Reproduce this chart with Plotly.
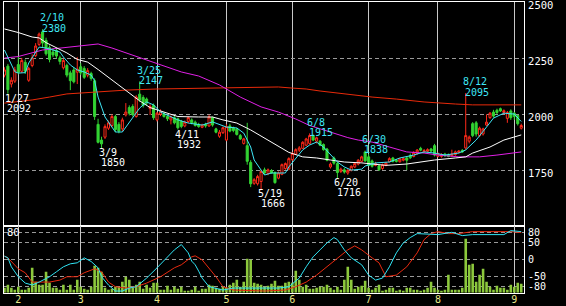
import pandas as pd
import plotly.graph_objects as go

# ---------------- data ----------------
holidays = ["2022-02-11", "2022-02-23", "2022-03-21", "2022-04-29", "2022-05-03",
            "2022-05-04", "2022-05-05", "2022-07-18", "2022-08-11"]
sessions = [d for d in pd.bdate_range("2022-01-26", "2022-09-05")
            if d.strftime("%Y-%m-%d") not in holidays]
session_labels = [d.strftime("%m-%d") for d in sessions]
pos = {lab: k for k, lab in enumerate(session_labels)}
xs = list(range(len(sessions)))

opens = [2175, 2215, 2135, 2148, 2222, 2192, 2232, 2152, 2218, 2262, 2312, 2368, 2330, 2298, 2278,
         2285, 2252, 2208, 2218, 2185, 2198, 2188, 2212, 2205, 2175, 2182, 2150, 1955, 1885, 1898,
         1938, 1950, 1990, 1955, 1935, 1997, 2030, 2035, 1990, 2090, 2075, 2068, 2025, 2040, 1975,
         2000, 2002, 1990, 1975, 1985, 1980, 1968, 1948, 1968, 1975, 1965, 1955, 1942, 1955, 1948,
         1985, 1935, 1902, 1918, 1885, 1948, 1940, 1935, 1905, 1870, 1860, 1785, 1692, 1690, 1700,
         1752, 1735, 1748, 1740, 1715, 1732, 1758, 1755, 1798, 1822, 1840, 1848, 1862, 1870, 1905,
         1880, 1880, 1865, 1845, 1765, 1805, 1780, 1745, 1752, 1738, 1750, 1765, 1778, 1790, 1832,
         1810, 1792, 1772, 1770, 1758, 1772, 1788, 1805, 1795, 1788, 1795, 1805, 1815, 1812, 1825,
         1848, 1832, 1835, 1845, 1860, 1812, 1812, 1822, 1818, 1815, 1820, 1830, 1838, 1850, 1880,
         1958, 1962, 1905, 1912, 1952, 1985, 2010, 2018, 2025, 2008, 1982, 2015, 2005, 1995, 1938]
highs = [2210, 2225, 2165, 2212, 2258, 2252, 2245, 2212, 2268, 2318, 2365, 2380, 2342, 2308, 2295,
         2298, 2262, 2248, 2226, 2195, 2210, 2255, 2228, 2215, 2206, 2190, 2160, 1980, 1900, 1955,
         1972, 2000, 1998, 1965, 1985, 2050, 2040, 2045, 2085, 2147, 2085, 2075, 2045, 2048, 2010,
         2022, 2010, 1996, 1995, 1995, 1985, 1975, 1972, 1990, 1982, 1972, 1962, 1958, 1962, 1998,
         1990, 1940, 1930, 1945, 1955, 1958, 1945, 1940, 1912, 1895, 1962, 1795, 1715, 1730, 1752,
         1762, 1758, 1755, 1745, 1745, 1780, 1785, 1808, 1832, 1848, 1858, 1880, 1895, 1915, 1910,
         1900, 1885, 1870, 1850, 1785, 1812, 1788, 1762, 1760, 1755, 1772, 1785, 1800, 1815, 1838,
         1822, 1798, 1788, 1775, 1780, 1788, 1808, 1810, 1800, 1805, 1808, 1812, 1825, 1835, 1845,
         1855, 1845, 1848, 1850, 1868, 1830, 1826, 1828, 1825, 1842, 1838, 1840, 1845, 2095, 1905,
         1965, 1970, 1945, 1940, 2000, 2010, 2020, 2025, 2030, 2022, 2015, 2022, 2010, 1998, 1958]
lows = [2165, 2092, 2120, 2140, 2178, 2185, 2180, 2145, 2210, 2255, 2305, 2300, 2262, 2232, 2255,
        2250, 2222, 2200, 2165, 2108, 2138, 2135, 2175, 2158, 2165, 2150, 1975, 1870, 1850, 1890,
        1930, 1942, 1920, 1915, 1925, 1990, 1995, 1990, 1985, 2055, 2030, 2040, 1997, 1975, 1968,
        1992, 1985, 1970, 1955, 1955, 1932, 1938, 1942, 1960, 1955, 1945, 1940, 1938, 1940, 1944,
        1945, 1915, 1895, 1912, 1880, 1920, 1920, 1905, 1885, 1865, 1775, 1675, 1685, 1682, 1666,
        1730, 1728, 1735, 1690, 1710, 1728, 1752, 1750, 1792, 1818, 1832, 1845, 1858, 1865, 1880,
        1870, 1858, 1838, 1790, 1758, 1775, 1716, 1738, 1735, 1730, 1745, 1760, 1772, 1785, 1788,
        1768, 1762, 1768, 1748, 1752, 1768, 1785, 1785, 1785, 1785, 1790, 1751, 1800, 1808, 1820,
        1835, 1828, 1830, 1830, 1812, 1808, 1806, 1810, 1808, 1810, 1815, 1825, 1828, 1842, 1870,
        1898, 1900, 1898, 1905, 1948, 1980, 1985, 2000, 2010, 2000, 1962, 1975, 1975, 1950, 1932]
closes = [2198, 2110, 2152, 2198, 2188, 2240, 2192, 2205, 2252, 2305, 2358, 2318, 2270, 2245, 2265,
          2260, 2236, 2240, 2175, 2150, 2145, 2202, 2185, 2165, 2195, 2160, 1990, 1875, 1868, 1945,
          1962, 1990, 1932, 1925, 1975, 2010, 2005, 1998, 2077, 2064, 2040, 2050, 2035, 1985, 2005,
          2012, 1990, 1980, 1988, 1962, 1940, 1946, 1965, 1985, 1962, 1950, 1945, 1952, 1948, 1988,
          1952, 1920, 1920, 1940, 1945, 1925, 1928, 1910, 1890, 1890, 1790, 1690, 1708, 1722, 1745,
          1738, 1752, 1738, 1695, 1738, 1775, 1780, 1802, 1825, 1842, 1850, 1875, 1890, 1905, 1885,
          1895, 1862, 1842, 1795, 1778, 1782, 1740, 1755, 1742, 1750, 1768, 1780, 1795, 1810, 1792,
          1772, 1768, 1780, 1752, 1775, 1782, 1802, 1790, 1790, 1800, 1802, 1795, 1806, 1830, 1840,
          1840, 1838, 1842, 1836, 1818, 1825, 1820, 1815, 1812, 1822, 1832, 1836, 1832, 1905, 1898,
          1905, 1912, 1938, 1935, 1965, 2005, 1992, 2008, 2015, 2016, 2008, 1985, 1990, 1958, 1950]
volume = [5, 8, 5, 3, 6, 3, 3, 5, 25, 11, 8, 8, 21, 10, 5, 5, 3, 8, 3, 8, 3, 13, 6, 4, 3, 6, 27, 25,
          21, 5, 3, 4, 6, 6, 11, 16, 13, 5, 8, 11, 4, 8, 5, 10, 10, 3, 3, 7, 3, 6, 4, 6, 2, 2, 3, 6,
          2, 4, 4, 8, 7, 5, 4, 6, 5, 8, 10, 13, 6, 11, 34, 33, 10, 9, 8, 6, 7, 9, 12, 7, 7, 10, 11,
          10, 22, 13, 6, 8, 4, 4, 5, 6, 6, 8, 5, 3, 6, 3, 13, 26, 13, 4, 6, 7, 12, 5, 3, 5, 8, 2, 3,
          5, 5, 2, 3, 2, 5, 5, 3, 3, 2, 3, 5, 11, 5, 3, 2, 3, 18, 3, 3, 3, 5, 54, 28, 29, 11, 18, 24,
          11, 6, 3, 7, 5, 5, 3, 8, 6, 10, 9]

# moving averages (session date -> value)
ma_short_dates = ["01-26", "01-28", "01-31", "02-01", "02-03", "02-04", "02-08", "02-09", "02-14", "02-16",
                  "02-18", "02-21", "02-24", "02-28", "03-02", "03-04", "03-07", "03-08", "03-10", "03-14",
                  "03-15", "03-17", "03-18", "03-23", "03-25", "03-29", "03-31", "04-04", "04-07", "04-11",
                  "04-14", "04-20", "04-25", "05-02", "05-10", "05-12", "05-16", "05-17", "05-19", "05-20",
                  "05-24", "05-26", "05-30", "05-31", "06-02", "06-06", "06-08", "06-10", "06-14", "06-16",
                  "06-20", "06-22", "06-24", "06-29", "06-30", "07-05", "07-11", "07-14", "07-21", "07-26",
                  "07-29", "08-03", "08-09", "08-12", "08-17", "08-22", "08-24", "08-29", "09-01", "09-05"]
ma_short_vals = [2287, 2220, 2190, 2184, 2186, 2229, 2274, 2300, 2296, 2287,
                 2278, 2256, 2220, 2198, 2189, 2175, 2150, 2077, 1988, 1943,
                 1921, 1921, 1943, 1983, 2028, 2055, 2042, 2010, 1988, 1975,
                 1961, 1952, 1966, 1943, 1939, 1916, 1854, 1796, 1751, 1729,
                 1738, 1738, 1738, 1765, 1805, 1841, 1863, 1876, 1854, 1818,
                 1787, 1765, 1751, 1755, 1769, 1783, 1787, 1805, 1818, 1832,
                 1827, 1818, 1827, 1841, 1885, 1943, 1983, 2005, 2001, 1968]
ma_mid_dates = ["01-26", "02-01", "02-07", "02-09", "02-14", "02-18", "02-22", "02-28", "03-03", "03-08",
                "03-15", "03-18", "03-25", "03-30", "04-06", "04-11", "04-19", "04-25", "04-28", "05-10",
                "05-16", "05-20", "05-26", "05-31", "06-06", "06-10", "06-16", "06-22", "06-29", "07-08",
                "07-19", "07-29", "08-08", "08-12", "08-16", "08-23", "08-29", "09-05"]
ma_mid_vals = [2381, 2365, 2345, 2341, 2320, 2290, 2274, 2245, 2233, 2200,
               2140, 2105, 2060, 2030, 2005, 1990, 1988, 1988, 1975, 1961,
               1930, 1895, 1860, 1830, 1810, 1805, 1796, 1787, 1783, 1772,
               1778, 1796, 1805, 1810, 1827, 1854, 1885, 1908]
ma_long_dates = ["01-26", "02-01", "02-10", "02-22", "03-01", "03-08", "03-14", "03-18", "03-29", "04-06",
                 "04-12", "04-19", "04-27", "05-11", "05-19", "05-26", "06-02", "06-08", "06-16", "06-23",
                 "06-28", "07-04", "07-11", "07-19", "07-26", "08-01", "08-09", "08-18", "08-25", "09-01",
                 "09-05"]
ma_long_vals = [2251, 2258, 2287, 2298, 2305, 2314, 2296, 2274, 2242, 2211,
                2189, 2171, 2131, 2077, 2033, 2010, 1979, 1950, 1921, 1896,
                1885, 1876, 1854, 1832, 1827, 1818, 1810, 1810, 1818, 1827,
                1832]
ma_200_dates = ["01-26", "02-07", "02-15", "02-22", "03-01", "03-08", "03-18", "04-01", "04-19", "05-12",
                "05-26", "06-01", "06-07", "06-13", "06-20", "06-24", "07-04", "07-13", "07-26", "08-08",
                "08-16", "09-05"]
ma_200_vals = [2050, 2064, 2077, 2091, 2095, 2100, 2108, 2113, 2117, 2122,
               2122, 2117, 2113, 2104, 2095, 2091, 2077, 2068, 2055, 2046,
               2042, 2042]

# oscillator lines (bottom panel)
osc_a_dates = ["01-26", "01-27", "01-28", "02-01", "02-03", "02-07", "02-09", "02-15", "02-17", "02-21",
               "02-24", "02-28", "03-02", "03-04", "03-08", "03-09", "03-11", "03-15", "03-17", "03-22",
               "03-24", "03-29", "04-01", "04-06", "04-08", "04-12", "04-14", "04-15", "04-18", "04-19",
               "04-20", "04-22", "04-28", "05-09", "05-13", "05-20", "05-26", "05-31", "06-03", "06-07",
               "06-09", "06-13", "06-15", "06-17", "06-20", "06-22", "06-24", "06-29", "07-01", "07-05",
               "07-07", "07-11", "07-13", "07-15", "07-20", "07-22", "08-01", "08-05", "08-10", "08-16",
               "08-29", "08-31", "09-05"]
osc_a_vals = [10, 5, -22, -52, -71, -77, -68, -52, -37, -22,
              -13, -10, 5, -6, -25, -52, -77, -95, -95, -86,
              -82, -56, -25, 8, 29, 45, 20, -5, -16, -35,
              -56, -82, -92, -86, -86, -86, -86, -82, -56, -22,
              8, 29, 50, 66, 60, 29, 5, -16, -47, -62,
              -56, -22, 20, 50, 66, 78, 75, 82, 72, 75,
              75, 87, 84]
osc_b_dates = ["01-26", "01-27", "02-01", "02-03", "02-07", "02-09", "02-15", "02-18", "02-22", "02-28",
               "03-02", "03-07", "03-09", "03-11", "03-15", "03-18", "03-24", "03-29", "04-04", "04-08",
               "04-12", "04-15", "04-18", "04-20", "04-22", "04-26", "04-28", "05-09", "05-20", "05-30",
               "06-02", "06-07", "06-10", "06-15", "06-20", "06-23", "06-27", "06-29", "07-04", "07-06",
               "07-08", "07-13", "07-19", "07-22", "07-26", "07-28", "08-01", "08-04", "08-09", "08-16",
               "08-23", "08-31", "09-05"]
osc_b_vals = [10, 5, -28, -40, -68, -68, -68, -62, -52, -52,
              -40, -28, -37, -68, -82, -86, -82, -71, -52, -25,
              -16, 8, 11, -1, -25, -52, -82, -92, -95, -92,
              -82, -68, -47, -22, 5, 29, 41, 29, 5, -10,
              -52, -47, -22, 20, 60, 78, 84, 78, 78, 84,
              84, 84, 81]

# annotated extremes: (session, kind)
marks = [("01-27", "low"), ("02-10", "high"), ("03-09", "low"), ("03-25", "high"), ("04-11", "low"),
         ("05-19", "low"), ("06-08", "high"), ("06-20", "low"), ("06-30", "high"), ("08-12", "high")]

price_ticks = [1750, 2000, 2250, 2500]
osc_ticks = [80, 50, 0, -50, -80]

# ---------------- figure ----------------
W, H = 566, 306
xdom = [4 / W, 524 / W]
main_dom = [(H - 226.3) / H, (H - 2.3) / H]
sub_dom = [(H - 292.7) / H, (H - 226.3) / H]
xrange_ = [-0.123, 149.80]

FONT = "DejaVu Sans Mono"
CYAN = "#3fe6f6"
LBL = 10
fig = go.Figure()

fig.add_trace(go.Candlestick(
    x=xs, open=opens, high=highs, low=lows, close=closes, xaxis="x", yaxis="y",
    increasing=dict(line=dict(color="#ff2a1a", width=1), fillcolor="black"),
    decreasing=dict(line=dict(color="#33d433", width=1), fillcolor="#33d433"),
    whiskerwidth=0, hoverinfo="skip"))

for dts, vals, col in [(ma_200_dates, ma_200_vals, "#e82a0a"),
                       (ma_long_dates, ma_long_vals, "#e020e6"),
                       (ma_mid_dates, ma_mid_vals, "#ffffff"),
                       (ma_short_dates, ma_short_vals, CYAN)]:
    fig.add_trace(go.Scatter(x=[pos[d] for d in dts], y=vals, mode="lines",
                             line=dict(color=col, width=1), xaxis="x", yaxis="y",
                             hoverinfo="skip"))

fig.add_trace(go.Bar(x=xs, y=volume, width=0.75, marker=dict(color="#8cc83c", line=dict(width=0)),
                     xaxis="x2", yaxis="y2", hoverinfo="skip"))
for dts, vals, col in [(osc_b_dates, osc_b_vals, "#e82a10"),
                       (osc_a_dates, osc_a_vals, "#30e4f4")]:
    fig.add_trace(go.Scatter(x=[pos[d] for d in dts], y=vals, mode="lines",
                             line=dict(color=col, width=1), xaxis="x2", yaxis="y3",
                             hoverinfo="skip"))

month_pos = []
month_txt = []
for k, d in enumerate(sessions):
    if k > 0 and d.month != sessions[k - 1].month:
        month_pos.append(k)
        month_txt.append(str(d.month))

grid_v = "#c8c8c8"
grid_h = "#9a9a9a"
ann = []
for dt, kind in marks:
    k = pos[dt]
    m, d = dt.split("-")
    dlabel = f"{int(m)}/{int(d)}"
    if kind == "high":
        v = highs[k]
        col = CYAN
        ann.append(dict(x=k, y=v, xref="x", yref="y", text=str(v), showarrow=False,
                        xanchor="left", yanchor="middle", xshift=-2, yshift=1, borderpad=0,
                        font=dict(color=col, size=LBL, family=FONT)))
        ann.append(dict(x=k, y=v, xref="x", yref="y", text=dlabel, showarrow=False,
                        xanchor="left", yanchor="middle", xshift=-4, yshift=11.2, borderpad=0,
                        font=dict(color=col, size=LBL, family=FONT)))
    else:
        v = lows[k]
        col = "#ffffff"
        ann.append(dict(x=k, y=v, xref="x", yref="y", text=dlabel, showarrow=False,
                        xanchor="left", yanchor="middle", xshift=-4, yshift=-4.5, borderpad=0,
                        font=dict(color=col, size=LBL, family=FONT)))
        ann.append(dict(x=k, y=v, xref="x", yref="y", text=str(v), showarrow=False,
                        xanchor="left", yanchor="middle", xshift=-1.5, yshift=-14.5, borderpad=0,
                        font=dict(color=col, size=LBL, family=FONT)))
ann.append(dict(x=0, y=1, xref="x2 domain", yref="y3 domain", text=str(osc_ticks[0]),
                showarrow=False, xanchor="left", yanchor="top", xshift=1, yshift=2,
                font=dict(color="white", size=10.5, family=FONT)))

fig.update_layout(
    width=W, height=H, margin=dict(l=0, r=0, t=0, b=0, autoexpand=False),
    paper_bgcolor="black", plot_bgcolor="black", showlegend=False, boxgap=0.15,
    xaxis=dict(domain=xdom, range=xrange_, anchor="y", tickvals=month_pos, showticklabels=False,
               showgrid=True, gridcolor=grid_v, gridwidth=1, zeroline=False, ticks="",
               showline=True, mirror=True, linecolor="white", linewidth=1,
               rangeslider=dict(visible=False)),
    yaxis=dict(domain=main_dom, range=[1500, 2500], anchor="x", side="right",
               tickvals=price_ticks, ticktext=[str(t) for t in price_ticks],
               tickfont=dict(color="white", size=10.5, family=FONT), ticks="",
               ticklabelshift=3, ticklabelstandoff=1, ticklabeloverflow="allow",
               showgrid=True, gridcolor=grid_h, griddash="4px,3px", gridwidth=1,
               zeroline=False, showline=True, mirror=True, linecolor="white", linewidth=1),
    xaxis2=dict(domain=xdom, range=xrange_, anchor="y2", tickvals=month_pos, ticktext=month_txt,
                tickfont=dict(color="#e8e88a", size=10, family=FONT), ticks="",
                ticklabelstandoff=-3, ticklabeloverflow="allow",
                showgrid=True, gridcolor=grid_v, gridwidth=1, zeroline=False,
                showline=True, mirror=True, linecolor="white", linewidth=1),
    yaxis2=dict(domain=sub_dom, range=[0, 66.4], anchor="x2", showgrid=False, zeroline=False,
                showticklabels=False, ticks="", showline=False),
    yaxis3=dict(overlaying="y2", anchor="x2", range=[-100, 100], side="right",
                tickvals=osc_ticks, ticktext=[str(t) for t in osc_ticks],
                tickfont=dict(color="white", size=10, family=FONT), ticks="",
                ticklabelstandoff=1, ticklabeloverflow="allow",
                showgrid=True, gridcolor=grid_h, griddash="4px,3px", gridwidth=1, zeroline=False,
                showline=True, mirror=True, linecolor="white", linewidth=1),
    annotations=ann,
    shapes=[dict(type="line", xref="x2 domain", yref="y3", x0=0, x1=1, y0=0, y1=0,
                 line=dict(color="white", width=1, dash="4px,3px"), layer="below")],
)

fig.write_html("out.html")
